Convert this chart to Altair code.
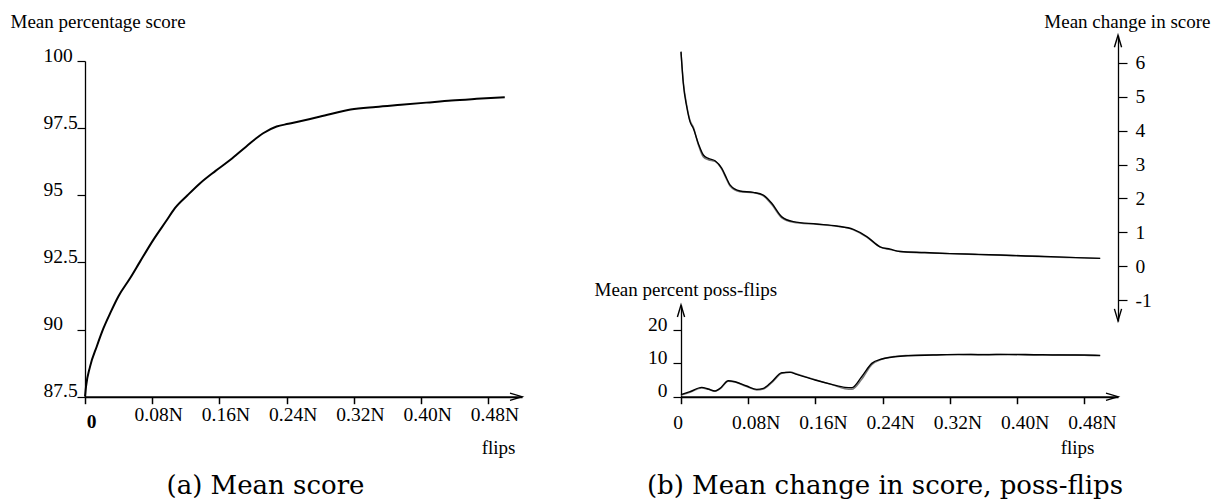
import altair as alt
import pandas as pd

# ---------------- data ----------------
# (a) mean percentage score
left_flips = [0, 0.0012, 0.006, 0.014, 0.022, 0.030, 0.040, 0.0536, 0.0655, 0.0813,
              0.097, 0.107, 0.122, 0.137, 0.155, 0.173, 0.192, 0.212, 0.228, 0.242,
              0.256, 0.280, 0.316, 0.346, 0.376, 0.406, 0.436, 0.466, 0.4995]
left_score = [87.5, 87.87, 88.62, 89.37, 90.05, 90.61, 91.25, 91.91, 92.53, 93.34,
              94.06, 94.52, 95.0, 95.45, 95.9, 96.32, 96.82, 97.31, 97.56, 97.66,
              97.76, 97.93, 98.19, 98.29, 98.37, 98.45, 98.53, 98.59, 98.65]

# (b) mean change in score, two runs
chg_flips = [0, 0.0027, 0.0068, 0.0107, 0.0147, 0.0206, 0.0266, 0.0325, 0.0405, 0.0484,
             0.0544, 0.0583, 0.0702, 0.0861, 0.098, 0.108, 0.120, 0.1337, 0.1615, 0.1854,
             0.2051, 0.2211, 0.2369, 0.2488, 0.2607, 0.29, 0.32, 0.35, 0.38, 0.41,
             0.44, 0.47, 0.4988]
chg_a = [6.32, 5.39, 4.70, 4.26, 4.06, 3.62, 3.28, 3.18, 3.11, 2.89,
         2.59, 2.40, 2.22, 2.18, 2.10, 1.86, 1.46, 1.32, 1.25, 1.19,
         1.09, 0.88, 0.58, 0.51, 0.44, 0.41, 0.38, 0.36, 0.34, 0.31,
         0.29, 0.26, 0.24]
chg_b = [6.30, 5.45, 4.75, 4.30, 4.10, 3.58, 3.22, 3.14, 3.09, 2.86,
         2.55, 2.37, 2.20, 2.17, 2.08, 1.82, 1.43, 1.30, 1.24, 1.18,
         1.08, 0.86, 0.57, 0.50, 0.44, 0.40, 0.38, 0.35, 0.33, 0.31,
         0.28, 0.26, 0.24]

# (b) mean percent poss-flips, two runs
poss_flips = [0, 0.0107, 0.0246, 0.0325, 0.0405, 0.0464, 0.0563, 0.0643, 0.0782, 0.0901,
              0.098, 0.108, 0.120, 0.1298, 0.1377, 0.1595, 0.1794, 0.1952, 0.2032, 0.215,
              0.227, 0.2389, 0.2548, 0.2706, 0.30, 0.33, 0.36, 0.39, 0.42, 0.45,
              0.48, 0.4988]
poss_a = [0.6, 1.5, 2.8, 2.3, 1.7, 2.5, 4.8, 4.5, 3.2, 2.2,
          2.5, 4.5, 7.2, 7.3, 6.7, 5.0, 3.7, 2.8, 2.7, 6.0,
          10.0, 11.3, 12.0, 12.3, 12.5, 12.7, 12.6, 12.7, 12.6, 12.5,
          12.5, 12.4]
poss_b = [0.5, 1.3, 2.6, 2.2, 1.6, 2.3, 4.6, 4.4, 3.0, 2.0,
          2.3, 4.2, 7.0, 7.4, 6.8, 5.1, 3.6, 2.4, 2.2, 5.2,
          9.6, 11.2, 12.1, 12.4, 12.6, 12.6, 12.7, 12.6, 12.5, 12.6,
          12.4, 12.3]

# tick values / axis texts
flip_ticks = [0, 0.08, 0.16, 0.24, 0.32, 0.40, 0.48]
score_ticks = [87.5, 90, 92.5, 95, 97.5, 100]
change_ticks = [-1, 0, 1, 2, 3, 4, 5, 6]
poss_ticks = [0, 10, 20]
flips_end = 0.52
change_lo, change_hi = -1.6, 6.8
poss_hi = 27.5
captions = ["(a) Mean score", "(b) Mean change in score, poss-flips"]

FONT = "Liberation Serif"
CAPFONT = "DejaVu Serif"

# ---------------- scales ----------------
xL = alt.Scale(domain=[0, flips_end], range=[85, 522], nice=False, zero=False)
yL = alt.Scale(domain=[87.5, 100], range=[396.7, 61], nice=False, zero=False)
xR = alt.Scale(domain=[0, flips_end], range=[681, 1118], nice=False, zero=False)
yC = alt.Scale(domain=[change_lo, change_hi], range=[320.9, 35.3], nice=False, zero=False)
yP = alt.Scale(domain=[0, poss_hi], range=[396.7, 305], nice=False, zero=False)

common = dict(labelFont=FONT, labelFontSize=19.5, labelColor="black",
              titleFont=FONT, titleFontSize=19, titleFontWeight="normal",
              titleColor="black", titleAngle=0, titleBaseline="alphabetic",
              grid=False, labelFlush=False, labelOverlap=False, labelBound=False,
              tickColor="black", domainColor="black")

flip_label = "datum.value == 0 ? '0' : format(datum.value, '.2f') + 'N'"

axis_xL = alt.Axis(orient="bottom", values=flip_ticks, labelExpr=flip_label,
                   tickSize=7, tickWidth=1.5, domainWidth=2,
                   labelPadding=alt.condition("datum.value == 0", alt.value(9), alt.value(2)),
                   labelFontWeight=alt.condition("datum.value == 0", alt.value("bold"), alt.value("normal")),
                   labelOffset=6,
                   title="flips", titleX=515, titleY=56.6, titleAlign="right", **common)
axis_xR = alt.Axis(orient="bottom", values=flip_ticks, labelExpr=flip_label,
                   tickSize=7, tickWidth=1.5, domainWidth=2, labelPadding=10,
                   labelOffset=alt.condition("datum.value == 0", alt.value(-3.5), alt.value(7.5)),
                   title="flips", titleX=1094, titleY=56.6, titleAlign="right", **common)
axis_yL = alt.Axis(orient="left", offset=-85, values=score_ticks,
                   labelExpr="toString(datum.value)", tickSize=8, tickWidth=1.2,
                   domainWidth=1.3, labelPadding=34, labelAlign="left",
                   labelBaseline="alphabetic",
                   title="Mean percentage score", titleX=-75, titleY=27,
                   titleAlign="left", **common)
axis_yC = alt.Axis(orient="right", offset=0, values=change_ticks,
                   labelExpr="toString(datum.value)", tickSize=9, tickWidth=1.2,
                   domainWidth=1.3, labelPadding=8, labelAlign="left",
                   labelBaseline="middle",
                   title="Mean change in score", titleX=92, titleY=27,
                   titleAlign="right", **common)
axis_yP = alt.Axis(orient="left", offset=-681, values=poss_ticks,
                   labelExpr="toString(datum.value)", tickSize=8, tickWidth=1.2,
                   domainWidth=1.3, labelPadding=6, labelAlign="right",
                   labelBaseline="alphabetic",
                   title="Mean percent poss-flips", titleX=-87, titleY=295,
                   titleAlign="left", **common)


def line_layer(xs, ys, xs_scale, ys_scale, color, width, xaxis=None, yaxis=None):
    df = pd.DataFrame({"flips": xs, "value": ys})
    return alt.Chart(df).mark_line(color=color, strokeWidth=width,
                                   interpolate="monotone").encode(
        x=alt.X("flips:Q", scale=xs_scale, axis=xaxis),
        y=alt.Y("value:Q", scale=ys_scale, axis=yaxis),
    )


def arrow(xv, yv, xs_scale, ys_scale, shape):
    df = pd.DataFrame({"flips": [xv], "value": [yv]})
    return alt.Chart(df).mark_point(shape=shape, size=144, filled=False,
                                    color="black", strokeWidth=1.4, opacity=1).encode(
        x=alt.X("flips:Q", scale=xs_scale, axis=None),
        y=alt.Y("value:Q", scale=ys_scale, axis=None),
    )


RIGHT = "M-2,-0.6L0,0L-2,0.6"
UP = "M-0.6,2L0,0L0.6,2"
DOWN = "M-0.6,-2L0,0L0.6,-2"

left_line = line_layer(left_flips, left_score, xL, yL, "black", 2, axis_xL, axis_yL)
chg_gray = line_layer(chg_flips, chg_b, xR, yC, "#777777", 1.4)
chg_black = line_layer(chg_flips, chg_a, xR, yC, "black", 1.4, None, axis_yC)
poss_gray = line_layer(poss_flips, poss_b, xR, yP, "#777777", 1.4)
poss_black = line_layer(poss_flips, poss_a, xR, yP, "black", 1.4, axis_xR, axis_yP)

arrows = [
    arrow(flips_end, 87.5, xL, yL, RIGHT),
    arrow(flips_end, 0, xR, yP, RIGHT),
    arrow(0, poss_hi, xR, yP, UP),
    arrow(flips_end, change_hi, xR, yC, UP),
    arrow(flips_end, change_lo, xR, yC, DOWN),
]

cap_a = alt.Chart(pd.DataFrame({"t": [captions[0]]})).mark_text(
    font=CAPFONT, fontSize=26, color="black", align="center", baseline="alphabetic"
).encode(text="t:N", x=alt.value(265.5), y=alt.value(494))
cap_b = alt.Chart(pd.DataFrame({"t": [captions[1]]})).mark_text(
    font=CAPFONT, fontSize=26, color="black", align="center", baseline="alphabetic"
).encode(text="t:N", x=alt.value(885), y=alt.value(494))

chart = alt.layer(
    left_line, chg_gray, chg_black, poss_gray, poss_black, *arrows, cap_a, cap_b
).resolve_scale(x="independent", y="independent").properties(
    width=1118, height=396.7,
    padding={"left": 0, "top": 0, "right": 95, "bottom": 104.3},
    autosize=alt.AutoSizeParams(type="none"),
    background="white",
).configure_view(stroke=None)

chart.save("out.html", embed_options={"renderer": "svg", "actions": False})
